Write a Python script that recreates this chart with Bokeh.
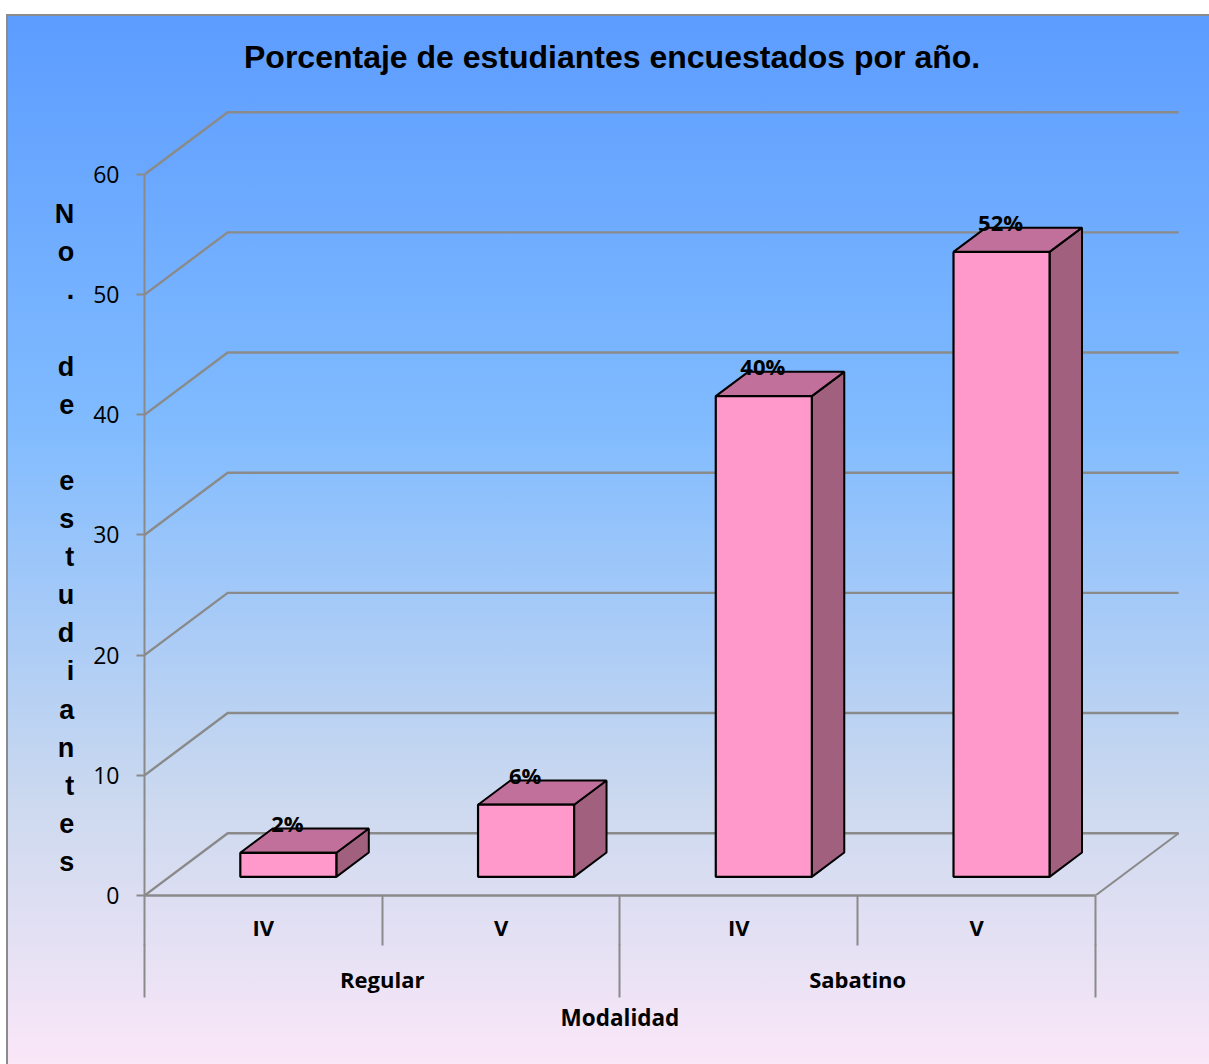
from bokeh.core.properties import value
from bokeh.embed import file_html
from bokeh.models import ColumnDataSource, FixedTicker, LinearAxis, Range1d, Title
from bokeh.plotting import figure
from bokeh.resources import INLINE

# Chart data
years = ["IV", "V", "IV", "V"]
modalities = ["Regular", "Sabatino"]
percentages = [2, 6, 40, 52]
y_ticks = [0, 10, 20, 30, 40, 50, 60]
chart_title = "Porcentaje de estudiantes encuestados por año."
y_title = "No. de estudiantes"
x_title = "Modalidad"

# Pseudo-3D geometry in data units
DEPTH_X = 0.35
DEPTH_Y = 5.18
BAR_WIDTH = 0.404
BAR_DEPTH_START = 0.3
BAR_DEPTH = 0.39
CATEGORY_COUNT = len(years)

GRID = "#8A8A8A"
FRONT = "#FF99CC"
TOP = "#C0709A"
SIDE = "#A2607F"

page_style = """
:host {
  background:
    linear-gradient(#8c8c8c, #8c8c8c) 6px 14px / 1203px 2px no-repeat,
    linear-gradient(#8c8c8c, #8c8c8c) 6px 14px / 2px 1050px no-repeat,
    linear-gradient(180deg, #5C9CFF 0%, #80BBFF 39%, #CCD9EF 75%, #FAE7F8 100%) 6px 14px / 1203px 1050px no-repeat;
}
"""

p = figure(
    width=1209, height=1064,
    x_range=Range1d(0, 4.362), y_range=Range1d(0, 65.82),
    x_axis_location=None, y_axis_location=None,
    output_backend="svg", toolbar_location=None,
    min_border_left=144, min_border_right=28, min_border_top=104, min_border_bottom=169,
    border_fill_alpha=0, background_fill_alpha=0, outline_line_color=None,
)
p.stylesheets = [page_style]
p.grid.visible = False

# Back wall and floor lines running from the front plane to the back plane
for tick in y_ticks:
    p.line([0, DEPTH_X, CATEGORY_COUNT + DEPTH_X],
           [tick, tick + DEPTH_Y, tick + DEPTH_Y],
           line_color=GRID, line_width=2.4)
p.line([CATEGORY_COUNT, CATEGORY_COUNT + DEPTH_X], [0, DEPTH_Y], line_color=GRID, line_width=2)

# Three faces of every bar
front_xs, front_ys, top_xs, top_ys, side_xs, side_ys = [], [], [], [], [], []
base = BAR_DEPTH_START * DEPTH_Y
lift_x, lift_y = BAR_DEPTH * DEPTH_X, BAR_DEPTH * DEPTH_Y
for i, pct in enumerate(percentages):
    left = i + 0.5 + BAR_DEPTH_START * DEPTH_X - BAR_WIDTH / 2
    right = left + BAR_WIDTH
    top = base + pct
    front_xs.append([left, right, right, left])
    front_ys.append([base, base, top, top])
    top_xs.append([left, right, right + lift_x, left + lift_x])
    top_ys.append([top, top, top + lift_y, top + lift_y])
    side_xs.append([right, right + lift_x, right + lift_x, right])
    side_ys.append([base, base + lift_y, top + lift_y, top])

p.patches(side_xs, side_ys, fill_color=SIDE, line_color="black", line_width=2)
p.patches(top_xs, top_ys, fill_color=TOP, line_color="black", line_width=2)
p.patches(front_xs, front_ys, fill_color=FRONT, line_color="black", line_width=2.2)

# Percentage labels above each bar
labels = ColumnDataSource(dict(
    x=[i + 0.5 + BAR_DEPTH_START * DEPTH_X - 0.004 for i in range(CATEGORY_COUNT)],
    y=[base + pct + 2.5 for pct in percentages],
    text=[f"{pct}%" for pct in percentages],
))
p.text("x", "y", "text", source=labels, text_align="center", text_baseline="middle",
       text_font=value("Open Sans"), text_font_style="bold", text_font_size="22px",
       text_color="black")

# Value axis with its label stacked letter by letter; the two leading blank
# lines move the centred block down beside the 0-60 scale
stacked_title = ["\u00a0", "\u00a0"] + ["\u00a0" if c == " " else c for c in y_title]
y_axis = LinearAxis(
    bounds=(0, 60), ticker=FixedTicker(ticks=y_ticks),
    axis_line_color=GRID, axis_line_width=2,
    major_tick_line_color=GRID, major_tick_line_width=2,
    major_tick_in=0, major_tick_out=8, minor_tick_in=0, minor_tick_out=0,
    major_label_text_font="Open Sans", major_label_text_font_size="23px",
    major_label_text_color="black", major_label_standoff=17,
    axis_label="\n".join(stacked_title),
    axis_label_orientation="horizontal",
    axis_label_text_align="center",
    axis_label_text_font="Liberation Sans", axis_label_text_font_style="bold",
    axis_label_text_font_size="27px", axis_label_text_color="black",
    axis_label_text_line_height=1.27, axis_label_standoff=16,
)
p.add_layout(y_axis, "left")

# Year axis: labels at category centres, separators between categories
year_centres = [i + 0.5 for i in range(CATEGORY_COUNT)]
year_axis = LinearAxis(
    bounds=(0, CATEGORY_COUNT),
    ticker=FixedTicker(ticks=year_centres, minor_ticks=list(range(CATEGORY_COUNT + 1))),
    major_label_overrides=dict(zip(year_centres, years)),
    axis_line_color=GRID, axis_line_width=2.4,
    major_tick_in=0, major_tick_out=0, major_tick_line_color=None,
    minor_tick_in=0, minor_tick_out=50, minor_tick_line_color=GRID, minor_tick_line_width=2,
    major_label_text_font="Open Sans", major_label_text_font_style="bold",
    major_label_text_font_size="22px", major_label_text_color="black",
    major_label_standoff=-34,
)
p.add_layout(year_axis, "below")

# Modality axis stacked under the year axis
modality_centres = [1, 3]
modality_axis = LinearAxis(
    bounds=(0, CATEGORY_COUNT),
    ticker=FixedTicker(ticks=modality_centres, minor_ticks=[0, 2, 4]),
    major_label_overrides=dict(zip(modality_centres, modalities)),
    axis_line_color=None,
    major_tick_in=0, major_tick_out=0, major_tick_line_color=None,
    minor_tick_in=0, minor_tick_out=53, minor_tick_line_color=GRID, minor_tick_line_width=2,
    major_label_text_font="Open Sans", major_label_text_font_style="bold",
    major_label_text_font_size="22px", major_label_text_color="black",
    major_label_standoff=-34,
)
p.add_layout(modality_axis, "below")

# Axis caption centred under the four categories
caption_position = [CATEGORY_COUNT / 2]
caption_axis = LinearAxis(
    bounds=(0, CATEGORY_COUNT),
    ticker=FixedTicker(ticks=caption_position, minor_ticks=[]),
    major_label_overrides={caption_position[0]: x_title},
    axis_line_color=None,
    major_tick_in=0, major_tick_out=0, major_tick_line_color=None,
    minor_tick_in=0, minor_tick_out=0, minor_tick_line_color=None,
    major_label_text_font="Open Sans", major_label_text_font_style="bold",
    major_label_text_font_size="22.5px", major_label_text_color="black",
    major_label_standoff=5,
)
p.add_layout(caption_axis, "below")

p.add_layout(Title(
    text=chart_title, align="left", offset=99.5, standoff=60,
    text_font="Liberation Sans", text_font_style="bold", text_font_size="32px",
    text_color="black",
), "above")

open("out.html", "w").write(file_html(p, INLINE))
